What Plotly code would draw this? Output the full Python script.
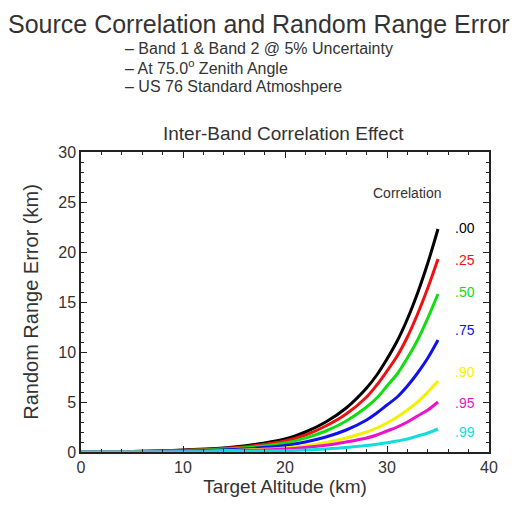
import plotly.graph_objects as go

altitude = [0, 5, 10, 15, 20, 22, 24, 26, 28, 29, 30, 31, 32, 33, 34, 35]
correlations = [".00", ".25", ".50", ".75", ".90", ".95", ".99"]
err_00 = [0, 0.05, 0.2, 0.5, 1.3, 2.0, 3.0, 4.4, 6.4, 7.7, 9.3, 11.1, 13.3, 15.9, 18.9, 22.3]
err_25 = [0, 0.04, 0.17, 0.43, 1.1, 1.7, 2.6, 3.8, 5.5, 6.7, 8.1, 9.6, 11.5, 13.8, 16.4, 19.3]
err_50 = [0, 0.04, 0.14, 0.35, 0.9, 1.4, 2.1, 3.1, 4.5, 5.4, 6.6, 7.8, 9.4, 11.2, 13.4, 15.8]
err_75 = [0, 0.03, 0.1, 0.25, 0.65, 1.0, 1.5, 2.2, 3.2, 3.9, 4.7, 5.5, 6.6, 7.9, 9.4, 11.2]
err_90 = [0, 0.02, 0.06, 0.16, 0.41, 0.63, 0.95, 1.4, 2.0, 2.4, 2.9, 3.5, 4.2, 5.0, 6.0, 7.1]
err_95 = [0, 0.01, 0.05, 0.11, 0.29, 0.45, 0.67, 1.0, 1.4, 1.7, 2.1, 2.5, 3.0, 3.6, 4.2, 5.0]
err_99 = [0, 0.005, 0.02, 0.05, 0.13, 0.2, 0.3, 0.44, 0.64, 0.77, 0.93, 1.1, 1.3, 1.6, 1.9, 2.3]
series = [err_00, err_25, err_50, err_75, err_90, err_95, err_99]

colors = ["#000000", "#ee1111", "#11dd11", "#1111ee", "#f2f200", "#ee11cc", "#11dddd"]
label_y = [22.4, 19.2, 16.0, 12.2, 8.0, 4.9, 2.0]

FONT = "Liberation Sans, Arial, sans-serif"
TXT = "#333333"

# page body has an 8px default margin; compensate so the picture lands at target pixels
OFF = 8
W, H = 524 - OFF, 505 - OFF
# plot area in screen pixels: x 81..489, y 152..452
L, R, T, B = 81 - OFF, 489 - OFF, 152 - OFF, 452 - OFF
def px(x):
    return (x - OFF - L) / (R - L)
def py(y):
    return (B - (y - OFF)) / (B - T)

fig = go.Figure()
for vals, col in zip(series, colors):
    fig.add_trace(go.Scatter(x=altitude, y=vals, mode="lines",
                             line=dict(color=col, width=3, shape="spline"),
                             showlegend=False, hoverinfo="skip"))

ann = []
for lab, ly, col in zip(correlations, label_y, colors):
    ann.append(dict(x=37.6, y=ly, xref="x", yref="y", text=lab, showarrow=False,
                    font=dict(family=FONT, size=14, color=col)))
ann.append(dict(x=35.5, y=25.9, xref="x", yref="y", text="Correlation", showarrow=False,
                xanchor="right", font=dict(family=FONT, size=14, color=TXT)))
ann.append(dict(x=px(6), y=py(24), xref="paper", yref="paper", xanchor="left", yanchor="middle",
                text="Source Correlation and Random Range Error", showarrow=False,
                font=dict(family=FONT, size=25, color=TXT)))
subs = ["– Band 1 & Band 2 @ 5% Uncertainty",
        "– At 75.0<sup>o</sup> Zenith Angle",
        "– US 76 Standard Atmoshpere"]
for i, s in enumerate(subs):
    ann.append(dict(x=px(123), y=py(48 + 19 * i), xref="paper", yref="paper",
                    xanchor="left", yanchor="middle", text=s, showarrow=False,
                    font=dict(family=FONT, size=16, color=TXT)))
ann.append(dict(x=px(283), y=py(133), xref="paper", yref="paper", xanchor="center", yanchor="middle",
                text="Inter-Band Correlation Effect", showarrow=False,
                font=dict(family=FONT, size=19, color=TXT)))

fig.update_layout(
    width=W, height=H,
    margin=dict(l=L, r=W - R, t=T, b=H - B),
    paper_bgcolor="white", plot_bgcolor="white",
    font=dict(family=FONT, color=TXT),
    annotations=ann,
)
axis_common = dict(showgrid=False, zeroline=False, showline=True, linecolor="#222",
                   linewidth=1.5, mirror="ticks", ticks="inside", ticklen=6, tickcolor="#222",
                   automargin=False,
                   tickfont=dict(family=FONT, size=16, color=TXT))
fig.update_xaxes(range=[0, 40], dtick=10, minor=dict(dtick=2, ticks="inside", ticklen=3, tickcolor="#222"),
                 title=dict(text="Target Altitude (km)", font=dict(family=FONT, size=19, color=TXT), standoff=2),
                 **axis_common)
fig.update_yaxes(range=[0, 30], dtick=5, minor=dict(dtick=1, ticks="inside", ticklen=3, tickcolor="#222"),
                 title=dict(text="Random Range Error (km)", font=dict(family=FONT, size=20, color=TXT), standoff=14),
                 **axis_common)

fig.write_html("out.html")
